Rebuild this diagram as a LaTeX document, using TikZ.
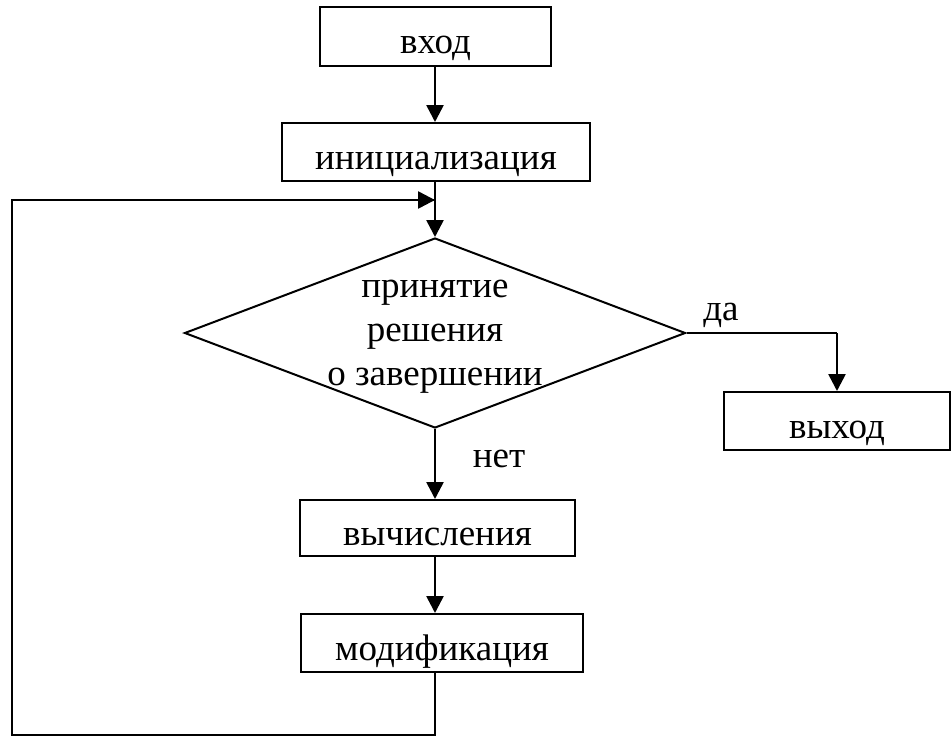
\documentclass[tikz,border=0pt]{standalone}
\usepackage{fontspec}
\setmainfont{Liberation Serif}
\usetikzlibrary{shapes.geometric,arrows.meta}
\begin{document}
\begin{tikzpicture}[x=1pt,y=-1pt,
  every node/.style={font=\fontsize{37}{44}\selectfont},
  box/.style={draw,line width=2pt,rectangle,inner sep=0pt,anchor=center,text height=40pt,text depth=6pt},
  dec/.style={draw,line width=2pt,diamond,inner sep=0pt,minimum width=501pt,minimum height=190pt},
  arr/.style={line width=2.6pt,-{Triangle[length=17pt,width=17pt]}},
  ln/.style={line width=2.6pt},
  lbl/.style={inner sep=0pt}]
\useasboundingbox (0,0) rectangle (951,740);
\node[box,minimum width=231pt,minimum height=59pt] (vhod) at (435.5,36.5) {вход};
\node[box,minimum width=308pt,minimum height=58pt] (init) at (436,152) {инициализация};
\node[dec] (d) at (435,333) {};
\node[align=center,inner sep=0pt] (dt) at (435,337) {принятие\\решения\\о завершении};
\node[box,minimum width=226pt,minimum height=58pt] (vyhod) at (837,421) {выход};
\node[box,minimum width=275pt,minimum height=56pt] (vych) at (437.5,528) {вычисления};
\node[box,minimum width=282pt,minimum height=58pt] (mod) at (442,643) {модификация};
\node[lbl] (da) at (721,315) {да};
\node[lbl] (net) at (499,459) {нет};
\coordinate (jn) at (435,200);
\coordinate (lt) at (12,200);
\coordinate (lb) at (12,735);
\coordinate (mb) at (435,735);
\coordinate (ec) at (d.east -| vyhod.north);
\draw[arr] (vhod.south -| d.north) -- (init.north -| d.north);
\draw[arr] (init.south -| d.north) -- (d.north);
\draw[arr] (d.south) -- (vych.north -| d.south);
\draw[arr] (vych.south -| d.south) -- (mod.north -| d.south);
\draw[ln] (d.east) -- (ec);
\draw[arr] (ec) -- (vyhod.north);
\draw[ln] (mod.south -| d.south) -- (mb) -- (lb) -- (lt) -- (jn);
\draw[arr] (lt) -- (jn);
\end{tikzpicture}
\end{document}
